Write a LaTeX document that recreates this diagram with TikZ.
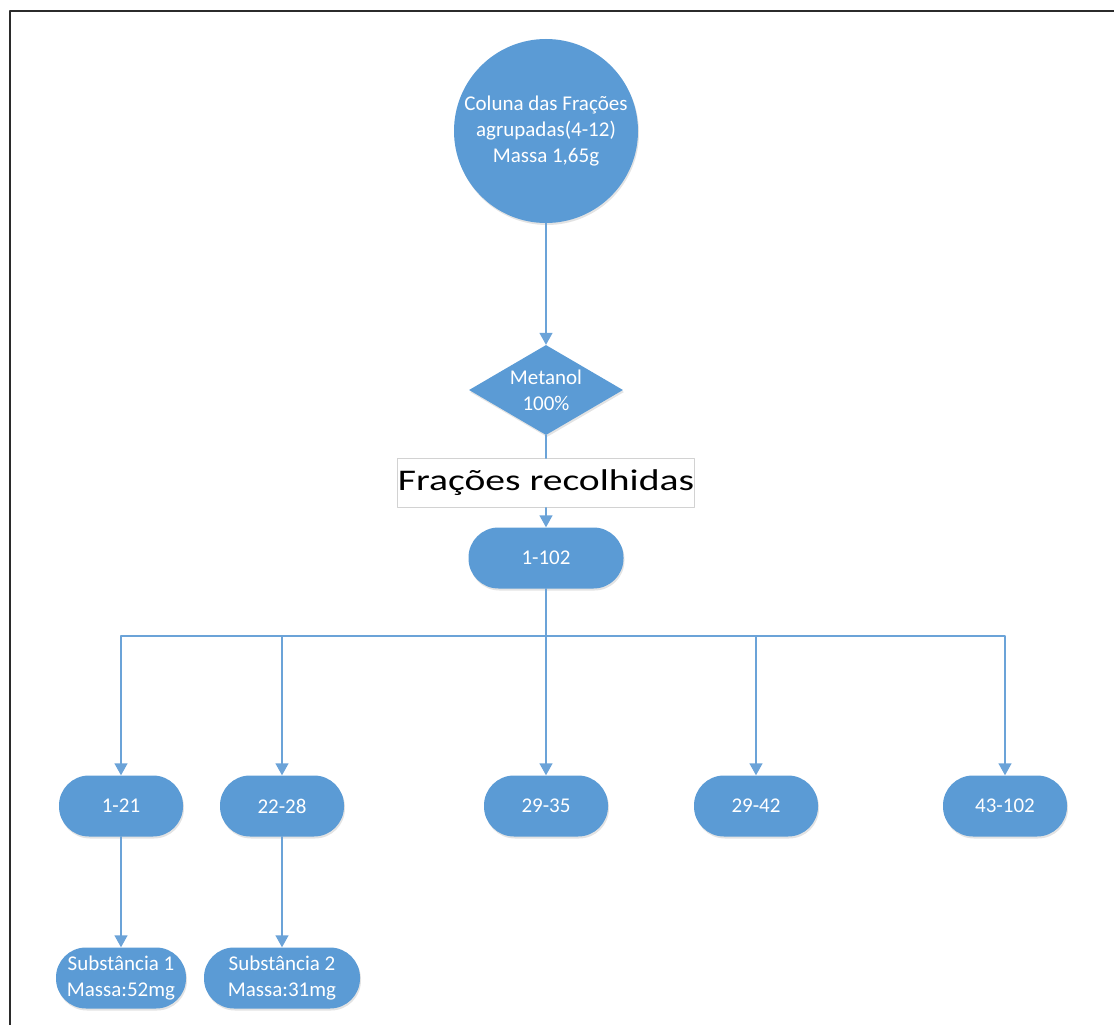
\documentclass[tikz,border=0pt]{standalone}
\usepackage{fontspec}
\setmainfont{Carlito}
\newfontfamily\wideCarlito[FakeStretch=1.32]{Carlito}
\usetikzlibrary{shapes.geometric,arrows.meta,shadows}

\definecolor{officeblue}{HTML}{5B9BD5}
\definecolor{linkblue}{HTML}{6BA3D8}
\definecolor{framegray}{HTML}{2B2B2B}

\begin{document}
\begin{tikzpicture}[x=1pt,y=-1pt,line cap=round,line join=round,
  blob/.style={fill=officeblue,text=white,align=center,
    font=\fontsize{21}{26}\selectfont,
    drop shadow={shadow xshift=1pt,shadow yshift=-2pt,opacity=0.22}},
  pill/.style={blob,rectangle,rounded corners=30pt,minimum height=61pt,
    minimum width=124pt,inner sep=0pt},
  link/.style={draw=linkblue,line width=1.4pt},
  linkarrow/.style={link,-{Triangle[width=13pt,length=12pt]}}]
  \useasboundingbox (0,0) rectangle (1114,1025);

  % Frame (top and left edges only)
  \draw[framegray,line width=2.4pt,line cap=butt] (10,1025) -- (10,11) -- (1114,11);

  % Column and eluent
  \node[blob,circle,minimum size=184pt,inner sep=0pt] (coluna) at (546,131)
    {Coluna das Frações\\agrupadas(4-12)\\Massa 1,65g};
  \node[blob,diamond,inner sep=0pt,minimum width=154pt,minimum height=90pt,
    shape aspect=1.7] (metanol) at (546,390) {Metanol\\100\%};
  \node[draw=gray!35,fill=white,line width=0.6pt,minimum width=297pt,
    minimum height=49pt,inner sep=0pt,font=\wideCarlito\fontsize{30}{34}\selectfont]
    (recolhidas) at (546,483) {Frações recolhidas};
  \node[pill,minimum width=155pt] (f1-102) at (546,558) {1-102};

  \draw[linkarrow] (coluna) -- (metanol);
  \draw[link] (metanol) -- (recolhidas);
  \draw[linkarrow] (recolhidas) -- (f1-102);

  % Collected fractions
  \coordinate (bus) at (546,636);
  \draw[link] (f1-102) -- (bus);
  \foreach \name/\x/\txt in {f1-21/121/1-21, f22-28/282/22-28, f29-35/546/29-35,
      f29-42/756/29-42, f43-102/1005/43-102} {
    \node[pill] (\name) at (\x,806) {\txt};
    \draw[linkarrow] (bus) -| (\name);
  }

  % Isolated substances
  \node[pill,minimum width=130pt] (subst1) at (121,978) {Substância 1\\Massa:52mg};
  \node[pill,minimum width=156pt] (subst2) at (282,978) {Substância 2\\Massa:31mg};
  \draw[linkarrow] (f1-21) -- (subst1);
  \draw[linkarrow] (f22-28) -- (subst2);
\end{tikzpicture}
\end{document}
